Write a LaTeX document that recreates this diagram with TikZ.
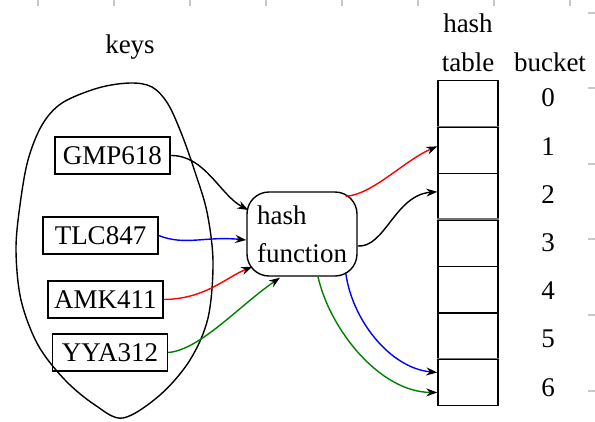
\documentclass[tikz,border=0pt]{standalone}
\usepackage{fontspec}
\setmainfont{Liberation Serif}
\usetikzlibrary{arrows.meta,calc}

\tikzset{
  lbl/.style={font=\fontsize{27}{32}\selectfont, inner sep=0pt},
  keybox/.style={draw, line width=1.4pt, font=\fontsize{27}{32}\selectfont,
    minimum width=115pt, minimum height=37pt, inner sep=0pt},
  hashbox/.style={draw, line width=1.4pt, rounded corners=22pt,
    font=\fontsize{27}{38}\selectfont, align=left,
    minimum width=110pt, minimum height=84pt, inner xsep=9pt},
  cell/.style={draw, line width=1.4pt, minimum width=60pt,
    minimum height=46.43pt, inner sep=0pt, anchor=north},
  conn/.style={line width=1.4pt, -{Stealth[length=11pt,width=8pt,black]}},
  tick/.style={draw=black!22, line width=1.2pt}
}

\begin{document}
\begin{tikzpicture}[x=1pt, y=-1pt]
\useasboundingbox (0,0) rectangle (595,421);

% faint page ticks
\foreach \k in {0,...,7} \draw[tick] (38+76*\k,0) -- (38+76*\k,6);
\foreach \yy in {13,88,164,239,315,391} \draw[tick] (588,\yy) -- (595,\yy);

% set of keys
\node[lbl, anchor=base] (keys) at (130,53) {keys};
\draw[line width=1.4pt] plot[smooth cycle, tension=0.55] coordinates {
  (130,83) (152,87) (168,104) (182,135) (195,172) (207,212) (213,262)
  (208,318) (190,360) (160,395) (123,418) (95,405) (65,380) (38,345)
  (21,300) (16,250) (20,205) (28,160) (42,125) (62,103) (98,88)};

\node[keybox] (gmp) at (112.5,155.5) {GMP618};
\node[keybox] (tlc) at (100.5,235.5) {TLC847};
\node[keybox] (amk) at (105.5,299.5) {AMK411};
\node[keybox] (yya) at (110,352.5) {YYA312};

% hash function
\node[hashbox] (hf) at (302,234) {hash\\function};

% hash table
\node[lbl, anchor=base] (thash) at (468,32) {hash};
\node[lbl, anchor=base] (ttable) at (468,71) {table};
\node[lbl, anchor=base] (tbucket) at (550,71) {bucket};
\foreach \i in {0,...,6} {
  \node[cell] (c\i) at (468,80+46.43*\i) {};
  \node[lbl] (b\i) at (548,98+48.2*\i) {\i};
}
\draw[black!55, line width=1.7pt] (c1.north west) -- (c1.north east);
\draw[black!55, line width=1.7pt] (c3.north west) -- (c3.north east);
\draw[black!55, line width=1.7pt] (c6.north west) -- (c6.north east);

% keys into the hash function
\draw[conn] (gmp.east) .. controls (205,155) and (220,195) .. ($(hf.west)+(2,-24)$);
\draw[conn, blue] (tlc.east) .. controls (185,246) and (205,236) .. ($(hf.west)+(0,6)$);
\draw[conn, red] (amk.east) .. controls (205,299) and (225,278) .. ($(hf.south west)+(6,-10)$);
\draw[conn, green!50!black] (yya.east) .. controls (200,350) and (240,305) .. ($(hf.south)+(-22,1)$);

% hash function into buckets
\draw[conn, red] ($(hf.north east)+(-12,5)$) .. controls (372,195) and (405,160) .. ($(c1.west)+(0,-4)$);
\draw[conn] ($(hf.east)+(0,12)$) .. controls (385,248) and (395,195) .. ($(c2.west)+(0,-5)$);
\draw[conn, blue] ($(hf.south east)+(-12,-4)$) .. controls (352,320) and (390,368) .. ($(c6.west)+(0,-10)$);
\draw[conn, green!50!black] ($(hf.south)+(16,0)$) .. controls (330,330) and (380,392) .. ($(c6.west)+(0,10)$);
\end{tikzpicture}
\end{document}
